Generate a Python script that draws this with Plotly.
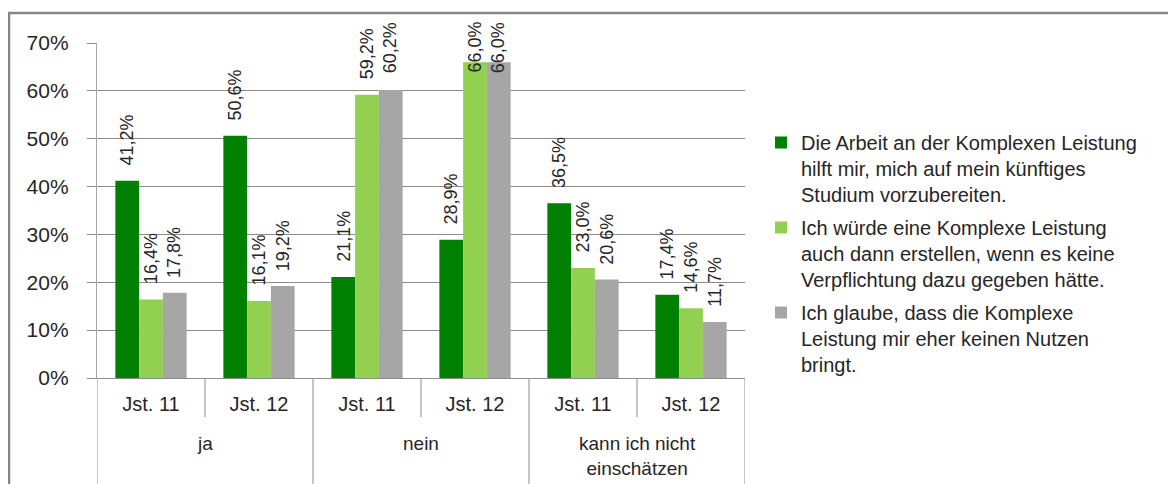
import plotly.graph_objects as go

# ---- data ----
groups = ["ja", "nein", "kann ich nicht<br>einschätzen"]
years = ["Jst. 11", "Jst. 12"]
series_names = [
    "Die Arbeit an der Komplexen Leistung<br>hilft mir, mich auf mein künftiges<br>Studium vorzubereiten.",
    "Ich würde eine Komplexe Leistung<br>auch dann erstellen, wenn es keine<br>Verpflichtung dazu gegeben hätte.",
    "Ich glaube, dass die Komplexe<br>Leistung mir eher keinen Nutzen<br>bringt.",
]
s_dark = [41.2, 50.6, 21.1, 28.9, 36.5, 17.4]
s_light = [16.4, 16.1, 59.2, 66.0, 23.0, 14.6]
s_gray = [17.8, 19.2, 60.2, 66.0, 20.6, 11.7]
y_ticks = [0, 10, 20, 30, 40, 50, 60, 70]
y_ticklabels = ["0%", "10%", "20%", "30%", "40%", "50%", "60%", "70%"]

colors = ["#008000", "#92D050", "#A6A6A6"]
series = [s_dark, s_light, s_gray]

# ---- layout geometry (window pixels; page body has an 8px offset) ----
OFF = 8
W, H = 1176 - OFF, 484 - OFF
L, R, T, B = 97, 745, 43, 378
PW, PH = R - L, B - T
YMAX = 70


def py(pix):  # window pixel y -> paper y
    return (B - pix) / PH


def px(pix):  # window pixel x -> paper x
    return (pix - L) / PW


cats = [f"{g}|{y}" for g in groups for y in years]
ticktext = [y for g in groups for y in years]

FONT = "Liberation Sans, Arial, sans-serif"
TXT = "#262626"
GRID = "#8C8C8C"
AX = "#A6A6A6"

fig = go.Figure()
for name, vals, c in zip(series_names, series, colors):
    fig.add_trace(go.Bar(x=cats, y=vals, name=name, marker=dict(color=c, line=dict(width=0)),
                         legendgroup=name, hoverinfo="skip"))

bargap = 0.34
bw = (1 - bargap) / 3

annotations = []
LABEL_GAP = 17
LABEL_LEN = 51
for k, vals in enumerate(series):
    for i, v in enumerate(vals):
        txt = f"{v:.1f}".replace(".", ",") + "%"
        xpos = i + (k - 1) * bw
        bar_top = B - v / YMAX * PH
        top = bar_top - LABEL_GAP - LABEL_LEN
        if top >= 22:
            annotations.append(dict(x=xpos, y=v, xref="x", yref="y", text=txt, textangle=-90,
                                    showarrow=False, yanchor="bottom", xanchor="center",
                                    yshift=LABEL_GAP - 4, font=dict(size=18, color=TXT, family=FONT)))
        else:
            annotations.append(dict(x=xpos, y=py(22), xref="x", yref="paper", text=txt, textangle=-90,
                                    showarrow=False, yanchor="top", xanchor="center",
                                    yshift=2, font=dict(size=18, color=TXT, family=FONT)))

# group labels
for gi, g in enumerate(groups):
    annotations.append(dict(x=gi * 2 + 0.5, y=py(431), xref="x", yref="paper", text=g,
                            showarrow=False, yanchor="top", xanchor="center",
                            font=dict(size=19, color=TXT, family=FONT)))

shapes = []
# inner dividers
for gi in range(len(groups)):
    xb = gi * 2 + 0.5
    shapes.append(dict(type="line", xref="x", yref="paper", x0=xb, x1=xb, y0=0, y1=py(417),
                       line=dict(color=AX, width=1.3)))
# outer dividers
for xb in [-0.5, 1.5, 3.5, 5.5]:
    shapes.append(dict(type="line", xref="x", yref="paper", x0=xb, x1=xb, y0=0, y1=py(490),
                       line=dict(color=AX, width=1.3)))
# chart border (top and left)
shapes.append(dict(type="line", xref="paper", yref="paper", x0=px(8), x1=px(1200), y0=py(13), y1=py(13),
                   line=dict(color="#868686", width=2.5)))
shapes.append(dict(type="line", xref="paper", yref="paper", x0=px(9), x1=px(9), y0=py(12), y1=py(500),
                   line=dict(color="#868686", width=2.5)))

fig.update_layout(
    width=W, height=H,
    margin=dict(l=L - OFF, r=(W + OFF) - R, t=T - OFF, b=(H + OFF) - B, pad=0),
    paper_bgcolor="white", plot_bgcolor="white",
    barmode="group", bargap=bargap, bargroupgap=0,
    font=dict(family=FONT, color=TXT),
    showlegend=True,
    legend=dict(x=px(761), y=py(123), xanchor="left", yanchor="top",
                font=dict(size=20, color=TXT, family=FONT),
                traceorder="grouped", tracegroupgap=4, valign="top",
                bgcolor="rgba(0,0,0,0)", itemwidth=30),
    annotations=annotations,
    shapes=shapes,
)
fig.update_xaxes(type="category", categoryorder="array", categoryarray=cats,
                 tickvals=cats, ticktext=ticktext, range=[-0.5, 5.5],
                 showgrid=False, zeroline=False, showline=True, linecolor=GRID, linewidth=1,
                 ticks="", ticklabelstandoff=8, tickfont=dict(size=20, color=TXT, family=FONT),
                 automargin=False, fixedrange=True)
fig.update_yaxes(range=[0, YMAX], tickvals=y_ticks, ticktext=y_ticklabels,
                 showgrid=True, gridcolor=GRID, gridwidth=1, zeroline=False,
                 showline=True, linecolor=AX, linewidth=1.3,
                 ticks="outside", ticklen=9, tickcolor=GRID, ticklabelstandoff=14,
                 tickfont=dict(size=21, color=TXT, family=FONT),
                 automargin=False, fixedrange=True)

fig.write_html("out.html", config={"displayModeBar": False})
